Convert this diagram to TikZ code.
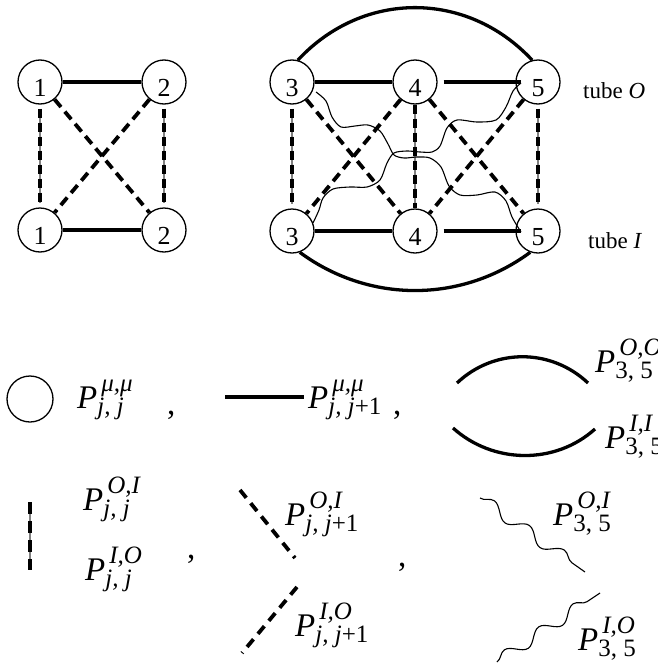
\documentclass[tikz,border=0pt]{standalone}
\usepackage{fontspec}
\setmainfont{Liberation Serif}
\usetikzlibrary{decorations.pathmorphing}
\newcommand\PL[2]{{\itshape P}{\fontsize{25}{25}\selectfont\itshape\rlap{\kern4pt\raisebox{17pt}{#1}}\raisebox{-6pt}{#2}}}
\tikzset{
 vtx/.style={circle,draw,line width=1.3pt,minimum size=44pt,inner sep=0pt,font=\fontsize{26}{26}\selectfont,text height=28pt,text depth=0pt},
 solidedge/.style={line width=3.8pt},
 arcedge/.style={line width=3.3pt},
 diag/.style={line width=3.8pt,dash pattern=on 10pt off 6pt},
 vdash/.style={line width=3.8pt,dash pattern=on 9pt off 5pt,preaction={draw=gray,line width=1.1pt,solid}},
 wave/.style={line width=1.1pt},
 lab/.style={anchor=base west,inner sep=0pt,font=\fontsize{33}{36}\selectfont},
 tubelab/.style={anchor=base west,inner sep=0pt,font=\fontsize{23}{23}\selectfont},
}
\begin{document}
\begin{tikzpicture}[x=1pt,y=-1pt]
\useasboundingbox (0,0) rectangle (658,664);
% left graph
\node[vtx] (a1) at (40,82) {1};
\node[vtx] (a2) at (164,82) {2};
\node[vtx] (b1) at (40,230) {1};
\node[vtx] (b2) at (164,230) {2};
% right graph
\node[vtx] (t3) at (292,82) {3};
\node[vtx] (t4) at (415,82) {4};
\node[vtx] (t5) at (538,82) {5};
\node[vtx] (u3) at (292,231) {3};
\node[vtx] (u4) at (415,231) {4};
\node[vtx] (u5) at (538,231) {5};
% solid edges
\draw[solidedge] (a1) -- (a2);
\draw[solidedge] (b1) -- (b2);
\draw[solidedge] (t3) -- (t4);
\draw[solidedge] (u3) -- (u4);
\draw[solidedge,shorten <=6pt,shorten >=-6pt] (t4) -- (t5);
\draw[solidedge,shorten <=6pt,shorten >=-6pt] (u4) -- (u5);
% diagonal dashed
\draw[diag] (a1) -- (b2);
\draw[diag] (a2) -- (b1);
\draw[diag] (t3) -- (u4);
\draw[diag] (t4) -- (u3);
\draw[diag] (t4) -- (u5);
\draw[diag] (t5) -- (u4);
% vertical dashed
\draw[vdash,shorten <=4pt,shorten >=4pt] (a1) -- (b1);
\draw[vdash,shorten <=4pt,shorten >=4pt] (a2) -- (b2);
\draw[vdash,shorten <=4pt,shorten >=4pt] (t3) -- (u3);
\draw[vdash,shorten <=4pt,shorten >=4pt] (t5) -- (u5);
\draw[vdash] (t4) -- (u4);
% big arcs
\draw[arcedge] (t3.75) .. controls +(65,-70) and +(-65,-70) .. (t5.105);
\draw[arcedge] (u3.-70) .. controls +(69,51) and +(-69,51) .. (u5.-110);
% wavy curves
\draw[wave] plot[smooth] coordinates {(316,92) (326,101) (332,117) (341,127) (355,126) (368,125) (380,131) (388,144) (394,155) (404,158) (417,157) (430,158) (441,167) (449,186) (460,195) (477,195) (495,192) (506,201) (512,217) (521,232)};
\draw[wave] plot[smooth] coordinates {(313,223) (319,210) (323,198) (333,189) (350,187) (367,187) (380,180) (387,163) (394,153) (407,151) (420,152) (432,152) (440,146) (447,128) (457,120) (477,122) (496,120) (506,107) (513,91) (521,83)};
% tube labels
\node[tubelab] (tubeO) at (583,98) {tube \textit{O}};
\node[tubelab] (tubeI) at (588,248) {tube \textit{I}};
% legend row 1
\node[circle,draw,line width=1.3pt,minimum size=46pt,inner sep=0pt] (lc) at (30,399) {};
\node[lab] (l1) at (77,408) {\PL{μ,μ}{j, j}};
\node[lab] (c1) at (167,414) {,};
\coordinate (s1) at (225,397);
\coordinate (s2) at (304,397);
\draw[solidedge] (s1) -- (s2);
\node[lab] (l2) at (308,408) {\PL{μ,μ}{j, j\upshape+1}};
\node[lab] (c2) at (393,414) {,};
\coordinate (ao1) at (457,383);
\coordinate (ao2) at (588,383);
\draw[arcedge] (ao1) .. controls +(37,-35) and +(-37,-35) .. (ao2);
\coordinate (ai1) at (453,428);
\coordinate (ai2) at (595,429);
\draw[arcedge] (ai1) .. controls +(40,36) and +(-40,36) .. (ai2);
\node[lab] (l3) at (595,372) {\PL{O,O}{\upshape 3, 5}};
\node[lab] (l4) at (605,448) {\PL{I,I}{\upshape 3, 5}};
% legend row 2
\coordinate (v1) at (30,502);
\coordinate (v2) at (30,570);
\draw[vdash,dash pattern=on 12pt off 7pt] (v1) -- (v2);
\node[lab] (l5) at (83,510) {\PL{O,I}{j, j}};
\node[lab] (l6) at (85,580) {\PL{I,O}{j, j}};
\node[lab] (c3) at (187,558) {,};
\coordinate (d1) at (240,490);
\coordinate (d2) at (295,558);
\coordinate (d3) at (297,587);
\coordinate (d4) at (242,653);
\draw[diag,dash pattern=on 10pt off 7pt] (d1) -- (d2);
\draw[diag,dash pattern=on 10pt off 7pt] (d3) -- (d4);
\node[lab] (l7) at (285,525) {\PL{O,I}{j, j\upshape+1}};
\node[lab] (l8) at (295,636) {\PL{I,O}{j, j\upshape+1}};
\node[lab] (c4) at (398,566) {,};
\coordinate (w1) at (480,498);
\coordinate (w2) at (585,572);
\coordinate (w3) at (497,662);
\coordinate (w4) at (600,593);
\draw[wave,decorate,decoration={snake,segment length=42.8pt,amplitude=6pt}] (w1) -- (w2);
\draw[wave,decorate,decoration={snake,segment length=41.3pt,amplitude=6pt}] (w3) -- (w4);
\node[lab] (l9) at (553,525) {\PL{O,I}{\upshape 3, 5}};
\node[lab] (l10) at (578,650) {\PL{I,O}{\upshape 3, 5}};
\end{tikzpicture}
\end{document}
